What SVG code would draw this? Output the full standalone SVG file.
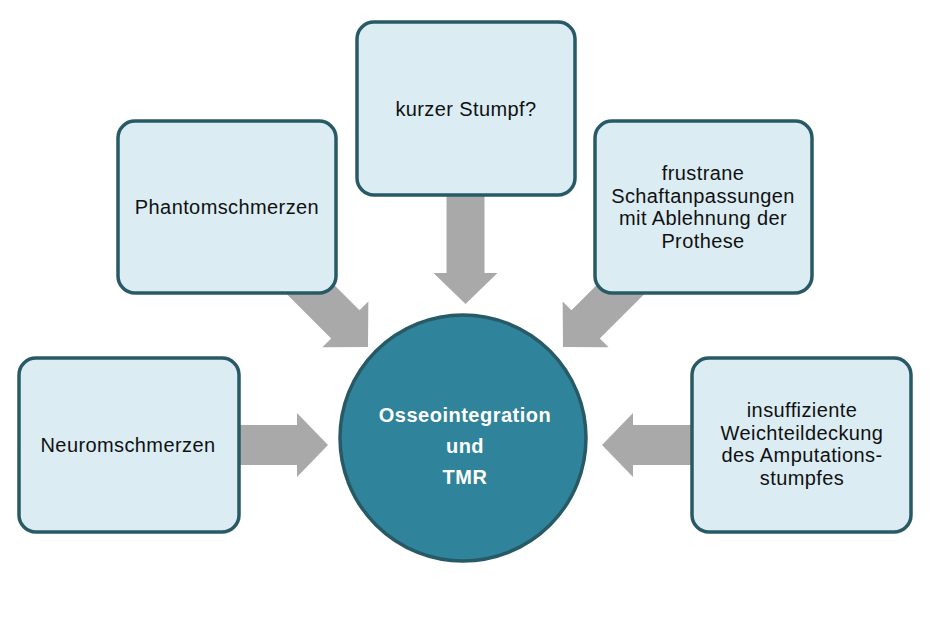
<svg xmlns="http://www.w3.org/2000/svg" width="931" height="619" viewBox="0 0 931 619">
<defs>
<style>
.box{fill:#dbedf3;stroke:#285a66;stroke-width:3.5}
.arr{fill:#a9a9a9}
.t{font-family:"Liberation Sans",Arial,sans-serif;font-size:20px;letter-spacing:0.4px;fill:#111;text-anchor:middle}
.w{font-family:"Liberation Sans",Arial,sans-serif;font-size:20px;letter-spacing:0.5px;font-weight:bold;fill:#fff;text-anchor:middle}
</style>
</defs>
<rect width="931" height="619" fill="#fff"/>
<g id="connectors">
<polygon class="arr" transform="translate(328,445)" points="-90,-20 -31,-20 -31,-32 0,0 -31,32 -31,20 -90,20"/>
<polygon class="arr" transform="translate(602,445) rotate(180)" points="-90,-20 -31,-20 -31,-32 0,0 -31,32 -31,20 -90,20"/>
<polygon class="arr" transform="translate(465.5,304) rotate(90)" points="-112,-19 -31,-19 -31,-32 0,0 -31,32 -31,19 -112,19"/>
<polygon class="arr" transform="translate(368,347) rotate(45)" points="-100,-20 -32,-20 -32,-32.5 0,0 -32,32.5 -32,20 -100,20"/>
<polygon class="arr" transform="translate(563,347) rotate(135)" points="-100,-20 -32,-20 -32,-32.5 0,0 -32,32.5 -32,20 -100,20"/>
</g>
<g id="node-neurom">
<rect class="box" x="19" y="358" width="220" height="174" rx="17"/>
<text class="t" x="128" y="452">Neuromschmerzen</text>
</g>
<g id="node-phantom">
<rect class="box" x="118" y="121" width="218" height="172" rx="17"/>
<text class="t" x="227" y="214">Phantomschmerzen</text>
</g>
<g id="node-kurzer">
<rect class="box" x="357" y="22" width="218" height="173" rx="17"/>
<text class="t" x="466" y="116">kurzer Stumpf?</text>
</g>
<g id="node-frustrane">
<rect class="box" x="595" y="121" width="217" height="172" rx="17"/>
<text class="t"><tspan x="703" y="180">frustrane</tspan><tspan x="703" dy="22.5">Schaftanpassungen</tspan><tspan x="703" dy="22.5">mit Ablehnung der</tspan><tspan x="703" dy="22.5">Prothese</tspan></text>
</g>
<g id="node-insuff">
<rect class="box" x="692" y="358" width="219" height="174" rx="17"/>
<text class="t"><tspan x="802" y="417">insuffiziente</tspan><tspan x="802" dy="22.5">Weichteildeckung</tspan><tspan x="802" dy="22.5">des Amputations-</tspan><tspan x="802" dy="22.5">stumpfes</tspan></text>
</g>
<g id="node-center">
<circle cx="463" cy="438" r="123" fill="#2f839b" stroke="#285a66" stroke-width="3.5"/>
<text class="w"><tspan x="465" y="422">Osseointegration</tspan><tspan x="465" dy="31">und</tspan><tspan x="465" dy="31">TMR</tspan></text>
</g>
</svg>
